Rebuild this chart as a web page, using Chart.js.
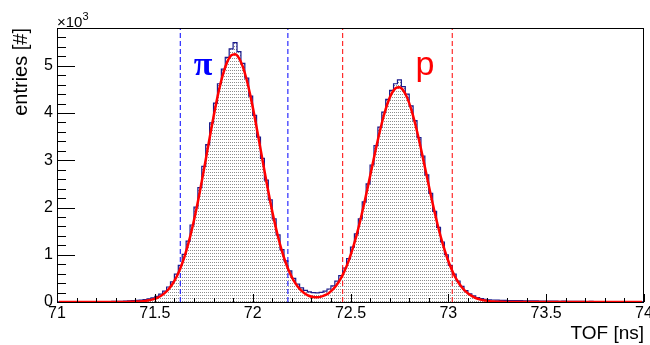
<!DOCTYPE html>
<html lang="en">
<head>
  <meta charset="UTF-8" />
  <title>TOF</title>
  <style>
    html, body { margin: 0; padding: 0; background: #fff; }
    canvas { display: block; }
  </style>
</head>
<body>
  <canvas id="tofChart" width="650" height="345"></canvas>

  <script src="https://cdn.jsdelivr.net/npm/chart.js"></script>
  <script>
    // histogram binning (ns)
    const binStart = 71.0;
    const binWidth = 0.02;

    // entries per bin, 71.00 .. 74.00
    const counts = [
      4, 6, 3, 5, 7, 4, 6, 5, 8, 6,
      7, 9, 8, 10, 12, 14, 13, 18, 22, 27,
      33, 41, 52, 68, 86, 118, 165, 230, 318, 428,
      590, 775, 1010, 1290, 1630, 2010, 2420, 2870, 3330, 3790,
      4210, 4620, 4930, 5180, 5360, 5490, 5300, 5050, 4740, 4360,
      3950, 3490, 3040, 2580, 2160, 1760, 1420, 1110, 870, 660,
      500, 380, 300, 245, 215, 200, 195, 205, 230, 275,
      340, 440, 560, 720, 920, 1160, 1440, 1760, 2120, 2500,
      2900, 3310, 3700, 4020, 4290, 4480, 4620, 4700, 4560, 4400,
      4150, 3840, 3480, 3090, 2690, 2300, 1920, 1580, 1270, 1000,
      775, 590, 445, 330, 240, 175, 128, 95, 72, 58,
      48, 42, 38, 35, 33, 30, 31, 28, 27, 25,
      26, 22, 23, 20, 21, 18, 19, 17, 16, 18,
      14, 15, 13, 14, 12, 11, 12, 10, 9, 10,
      8, 9, 7, 8, 6, 7, 5, 6, 5, 4
    ];

    // fit curve, read at the bin centres
    const fitValues = [
      0, 0, 0, 0, 0, 0, 0, 0, 0, 0,
      0, 0, 0, 0, 0, 1, 1, 2, 3, 5,
      8, 13, 22, 35, 55, 85, 127, 187, 270, 381,
      525, 710, 940, 1219, 1546, 1920, 2336, 2781, 3242, 3700,
      4135, 4524, 4846, 5083, 5219, 5246, 5164, 4977, 4695, 4337,
      3922, 3473, 3010, 2556, 2124, 1728, 1376, 1073, 820, 613,
      451, 326, 234, 169, 127, 105, 100, 113, 143, 193,
      265, 365, 496, 662, 866, 1112, 1399, 1725, 2083, 2465,
      2858, 3247, 3615, 3942, 4212, 4410, 4524, 4547, 4478, 4321,
      4085, 3784, 3434, 3054, 2661, 2272, 1900, 1557, 1251, 984,
      758, 573, 424, 308, 218, 152, 104, 69, 45, 29,
      18, 11, 7, 4, 2, 1, 0, 0, 0, 0,
      0, 0, 0, 0, 0, 0, 0, 0, 0, 0,
      0, 0, 0, 0, 0, 0, 0, 0, 0, 0,
      0, 0, 0, 0, 0, 0, 0, 0, 0, 0
    ];

    const xTicks = [71, 71.5, 72, 72.5, 73, 73.5, 74];
    const yTicks = [0, 1000, 2000, 3000, 4000, 5000];

    // selection windows
    const piCuts = [71.63, 72.18];
    const protonCuts = [72.46, 73.02];

    const xMin = 71, xMax = 74, yMax = 5800;

    // histogram as left bin edges + closing point
    const histData = counts.map((c, i) => ({ x: binStart + i * binWidth, y: c }));
    histData.push({ x: binStart + counts.length * binWidth, y: counts[counts.length - 1] });

    const fitData = fitValues.map((v, i) => ({ x: binStart + (i + 0.5) * binWidth, y: v }));

    const cutLine = (xv, color) => ({
      data: [{ x: xv, y: 0 }, { x: xv, y: yMax }],
      borderColor: color,
      borderWidth: 1,
      borderDash: [5, 3],
      pointRadius: 0,
      fill: false
    });

    // dotted fill like ROOT fill style
    const canvas = document.getElementById("tofChart");
    const tile = document.createElement("canvas");
    tile.width = 2; tile.height = 3;
    const tctx = tile.getContext("2d");
    tctx.fillStyle = "#8c8c8c";
    tctx.fillRect(0, 1, 1, 1);
    const dots = canvas.getContext("2d").createPattern(tile, "repeat");

    // frame, inward ticks, labels
    const rootFrame = {
      id: "rootFrame",
      afterDatasetsDraw(chart) {
        const { ctx, chartArea: a, scales: { x, y } } = chart;
        ctx.save();
        ctx.strokeStyle = "#000";
        ctx.lineWidth = 1;
        ctx.strokeRect(a.left + 0.5, a.top + 0.5, a.right - a.left - 1, a.bottom - a.top);

        ctx.beginPath();
        for (let k = 0; k <= 30; k++) {
          const px = Math.round(x.getPixelForValue(xMin + k * 0.1)) + 0.5;
          const len = k % 5 === 0 ? 8 : 4;
          ctx.moveTo(px, a.bottom);
          ctx.lineTo(px, a.bottom - len);
        }
        for (let k = 0; k * 200 <= yMax; k++) {
          const py = Math.round(y.getPixelForValue(k * 200)) + 0.5;
          const len = k % 5 === 0 ? 18 : 9;
          ctx.moveTo(a.left, py);
          ctx.lineTo(a.left + len, py);
        }
        ctx.stroke();

        // x10^3 multiplier
        ctx.fillStyle = "#000";
        ctx.textAlign = "left";
        ctx.textBaseline = "alphabetic";
        ctx.font = '15px "Liberation Sans"';
        ctx.fillText("\u00d710", a.left, a.top - 1);
        const w = ctx.measureText("\u00d710").width;
        ctx.font = '11px "Liberation Sans"';
        ctx.fillText("3", a.left + w, a.top - 8);

        // particle labels
        ctx.textAlign = "center";
        ctx.fillStyle = "#0000ff";
        ctx.font = 'bold 34px "Liberation Serif"';
        ctx.fillText("\u03c0", x.getPixelForValue(71.746), y.getPixelForValue(4800));
        ctx.fillStyle = "#ff0000";
        ctx.font = '34px "Liberation Sans"';
        ctx.fillText("p", x.getPixelForValue(72.881), y.getPixelForValue(4800));
        ctx.restore();
      }
    };

    new Chart(canvas, {
      type: "line",
      data: {
        datasets: [
          {
            data: fitData,
            borderColor: "#ff0000",
            borderWidth: 2.5,
            pointRadius: 0,
            cubicInterpolationMode: "monotone",
            fill: false
          },
          cutLine(piCuts[0], "#0000ff"),
          cutLine(piCuts[1], "#0000ff"),
          cutLine(protonCuts[0], "#ff0000"),
          cutLine(protonCuts[1], "#ff0000"),
          {
            data: histData,
            stepped: "before",
            borderColor: "#1a1a8c",
            borderWidth: 1.2,
            backgroundColor: dots,
            pointRadius: 0,
            fill: "origin"
          }
        ]
      },
      options: {
        responsive: false,
        animation: false,
        layout: { padding: { top: 28, right: 6, left: 0, bottom: 0 } },
        plugins: { legend: { display: false }, tooltip: { enabled: false } },
        scales: {
          x: {
            type: "linear",
            min: xMin,
            max: xMax,
            grid: { display: false, drawTicks: false, tickLength: 0 },
            border: { display: false },
            ticks: {
              padding: 2,
              color: "#000",
              font: { family: "Liberation Sans", size: 16 },
              maxRotation: 0,
              callback: v => String(Number(v.toFixed(1)))
            },
            afterBuildTicks: s => { s.ticks = xTicks.map(v => ({ value: v })); },
            afterFit: s => { s.height = 43; s.paddingLeft = 0; s.paddingRight = 0; },
            title: {
              display: true,
              text: "TOF [ns]",
              align: "end",
              color: "#000",
              font: { family: "Liberation Sans", size: 19 },
              padding: { top: 0, bottom: 0 }
            }
          },
          y: {
            type: "linear",
            min: 0,
            max: yMax,
            grid: { display: false, drawTicks: false, tickLength: 0 },
            border: { display: false },
            ticks: {
              padding: 4,
              color: "#000",
              font: { family: "Liberation Sans", size: 16 },
              callback: v => v / 1000
            },
            afterBuildTicks: s => { s.ticks = yTicks.map(v => ({ value: v })); },
            afterFit: s => { s.width = 57; s.paddingTop = 0; s.paddingBottom = 0; },
            title: {
              display: true,
              text: "entries [#]",
              align: "end",
              color: "#000",
              font: { family: "Liberation Sans", size: 20 },
              padding: { top: 9, bottom: 0 }
            }
          }
        }
      },
      plugins: [rootFrame]
    });
  </script>
</body>
</html>
